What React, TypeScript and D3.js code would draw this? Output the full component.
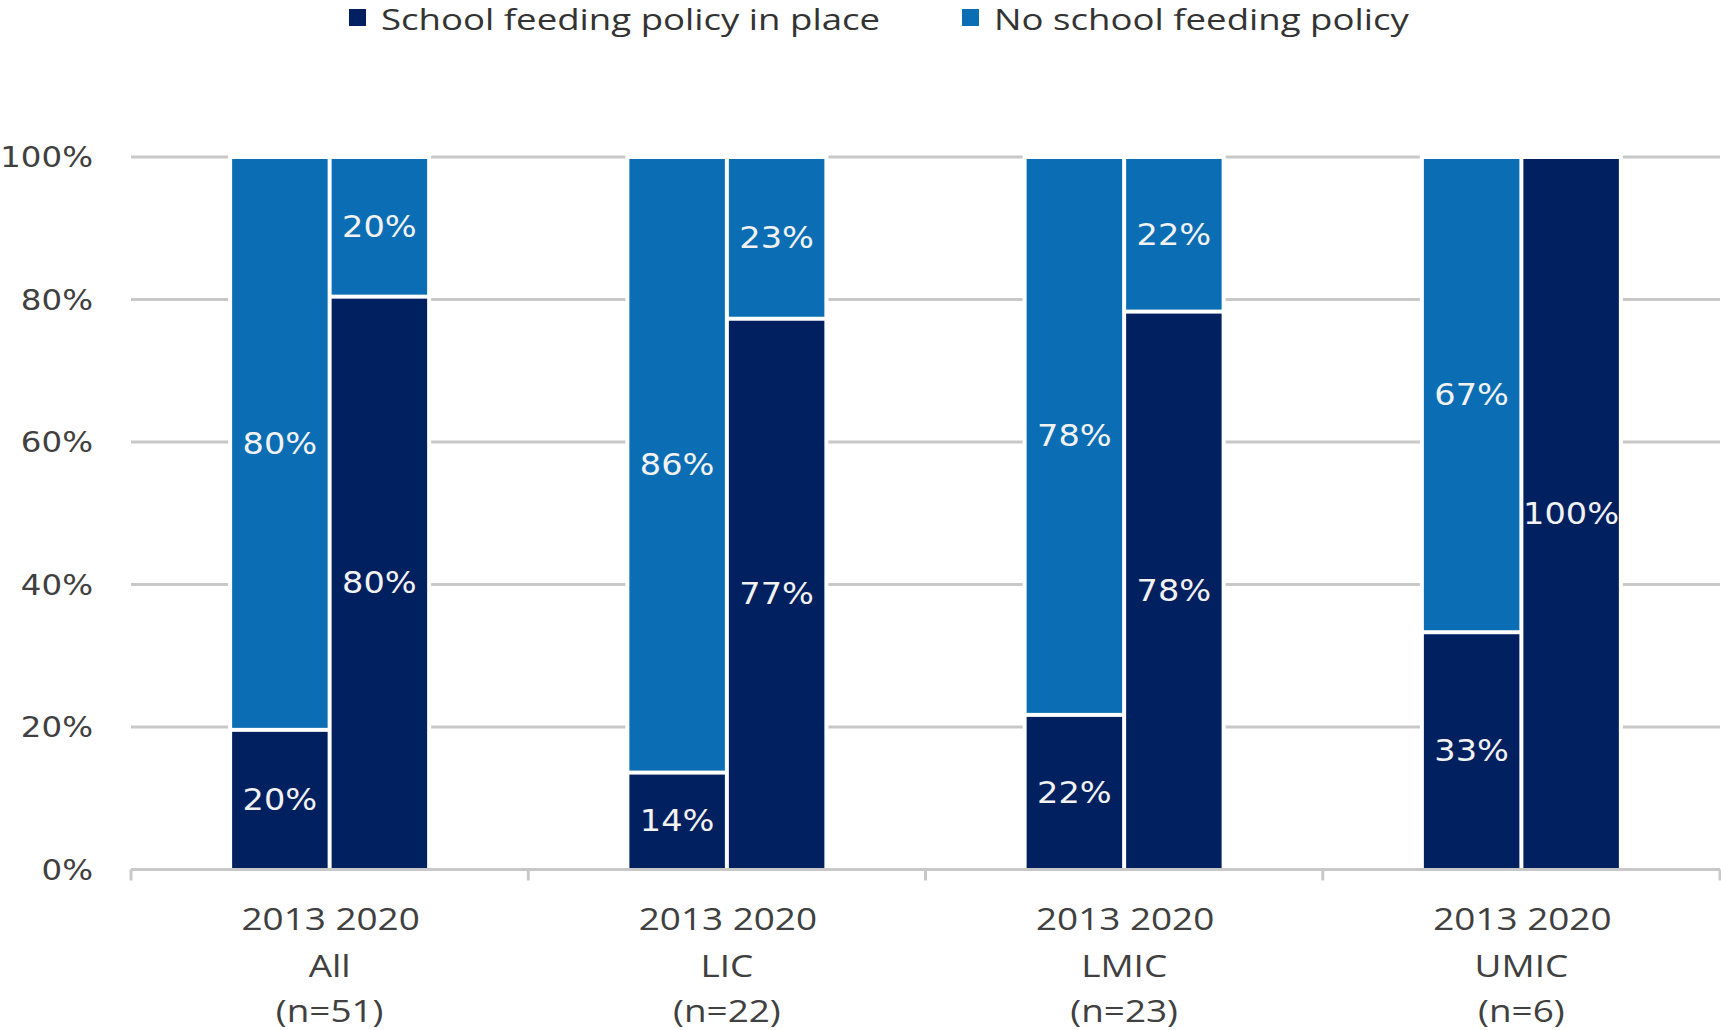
import React from "react";
import * as d3 from "d3";

const categories = ["All", "LIC", "LMIC", "UMIC"];
const sampleSizes = ["(n=51)", "(n=22)", "(n=23)", "(n=6)"];
const years = ["2013", "2020"];
// share of countries with a school feeding policy in place (%)
const policy2013 = [19.6, 13.6, 21.7, 33.3];
const policy2020 = [80.4, 77.3, 78.3, 100];
const yTicks = [0, 20, 40, 60, 80, 100];
const seriesNames = ["School feeding policy in place", "No school feeding policy"];

const DARK = "#002060";
const LIGHT = "#0B6EB4";
const GRID = "#C8C8C8";
const TEXT = "#404040";

type STextProps = {
  x: number;
  y: number;
  sx: number;
  anchor?: "start" | "middle" | "end";
  baseline?: string;
  family: string;
  size: number;
  fill: string;
  children: React.ReactNode;
};

function SText({ x, y, sx, anchor = "middle", baseline, family, size, fill, children }: STextProps) {
  return (
    <text
      transform={`translate(${x},${y}) scale(${sx},1)`}
      textAnchor={anchor}
      dominantBaseline={baseline}
      fontFamily={family}
      fontSize={size}
      fill={fill}
    >
      {children}
    </text>
  );
}

export default function App() {
  const W = 1721;
  const H = 1030;
  const x = d3.scaleBand<string>().domain(categories).range([131, 1720]);
  const y = d3.scaleLinear().domain([0, 100]).range([869.5, 157]);
  const barW = 95.5;
  const gap = 4;
  const policyByYear = [policy2013, policy2020];
  const SX_NUM = 1.12;
  const SX_TXT = 1.19;

  const barX = (cat: string, yi: number) => {
    const c = (x(cat) as number) + x.bandwidth() / 2;
    return yi === 0 ? c - gap / 2 - barW : c + gap / 2;
  };

  return (
    <svg
      width={W}
      height={H}
      style={{ position: "absolute", left: 0, top: 0, display: "block", background: "#fff" }}
    >
      {/* gridlines */}
      {yTicks
        .filter((t) => t > 0)
        .map((t) => (
          <line key={"g" + t} x1={131} x2={1720} y1={y(t)} y2={y(t)} stroke={GRID} strokeWidth={3} />
        ))}
      {/* white gaps around bar groups */}
      {categories.map((cat) => {
        const x0 = barX(cat, 0) - 4;
        const x1 = barX(cat, 1) + barW + 4;
        return <rect key={"bg" + cat} x={x0} y={y(100) - 8} width={x1 - x0} height={y(0) - y(100) + 6} fill="#fff" />;
      })}
      {/* bars */}
      {categories.map((cat, ci) =>
        years.map((yr, yi) => {
          const p = policyByYear[yi][ci];
          const np = 100 - p;
          const bx = barX(cat, yi);
          const hasNo = np > 0.01;
          const darkTop = hasNo ? y(p) + 2 : y(100) + 2;
          return (
            <g key={cat + yr}>
              <rect x={bx} y={darkTop} width={barW} height={y(0) - darkTop} fill={DARK} />
              {hasNo && (
                <rect x={bx} y={y(100) + 2} width={barW} height={y(p) - 2 - (y(100) + 2)} fill={LIGHT} />
              )}
              <SText
                x={bx + barW / 2}
                y={(y(0) + y(p)) / 2}
                sx={SX_NUM}
                baseline="central"
                family="DejaVu Sans"
                size={30}
                fill="#F2F2F2"
              >
                {Math.round(p) + "%"}
              </SText>
              {hasNo && (
                <SText
                  x={bx + barW / 2}
                  y={(y(p) + y(100)) / 2}
                  sx={SX_NUM}
                  baseline="central"
                  family="DejaVu Sans"
                  size={30}
                  fill="#F2F2F2"
                >
                  {Math.round(np) + "%"}
                </SText>
              )}
            </g>
          );
        })
      )}
      {/* x axis */}
      <line x1={131} x2={1720} y1={y(0)} y2={y(0)} stroke={GRID} strokeWidth={3} />
      {[...categories.map((c) => x(c) as number), 1720].map((tx, i) => (
        <line key={"t" + i} x1={tx} x2={tx} y1={y(0)} y2={y(0) + 11} stroke={GRID} strokeWidth={3} />
      ))}
      {/* y tick labels */}
      {yTicks.map((t) => (
        <SText
          key={"yl" + t}
          x={93}
          y={y(t)}
          sx={SX_NUM}
          anchor="end"
          baseline="central"
          family="DejaVu Sans"
          size={29}
          fill={TEXT}
        >
          {t + "%"}
        </SText>
      ))}
      {/* x labels */}
      {categories.map((cat, ci) => {
        const c = (x(cat) as number) + x.bandwidth() / 2;
        return (
          <g key={"xl" + cat}>
            <SText x={c + 1} y={930} sx={SX_TXT} family="Open Sans" size={31} fill={TEXT}>
              {years.join(" ")}
            </SText>
            <SText x={c} y={977} sx={SX_TXT} family="Open Sans" size={31} fill={TEXT}>
              {cat}
            </SText>
            <SText x={c} y={1022} sx={SX_TXT} family="Open Sans" size={31} fill={TEXT}>
              {sampleSizes[ci]}
            </SText>
          </g>
        );
      })}
      {/* legend */}
      <rect x={349} y={9} width={17} height={17} fill={DARK} />
      <SText x={381} y={30} sx={1.22} anchor="start" family="Open Sans" size={30} fill="#333">
        {seriesNames[0]}
      </SText>
      <rect x={962} y={9} width={17} height={17} fill={LIGHT} />
      <SText x={994} y={30} sx={1.22} anchor="start" family="Open Sans" size={30} fill="#333">
        {seriesNames[1]}
      </SText>
    </svg>
  );
}
